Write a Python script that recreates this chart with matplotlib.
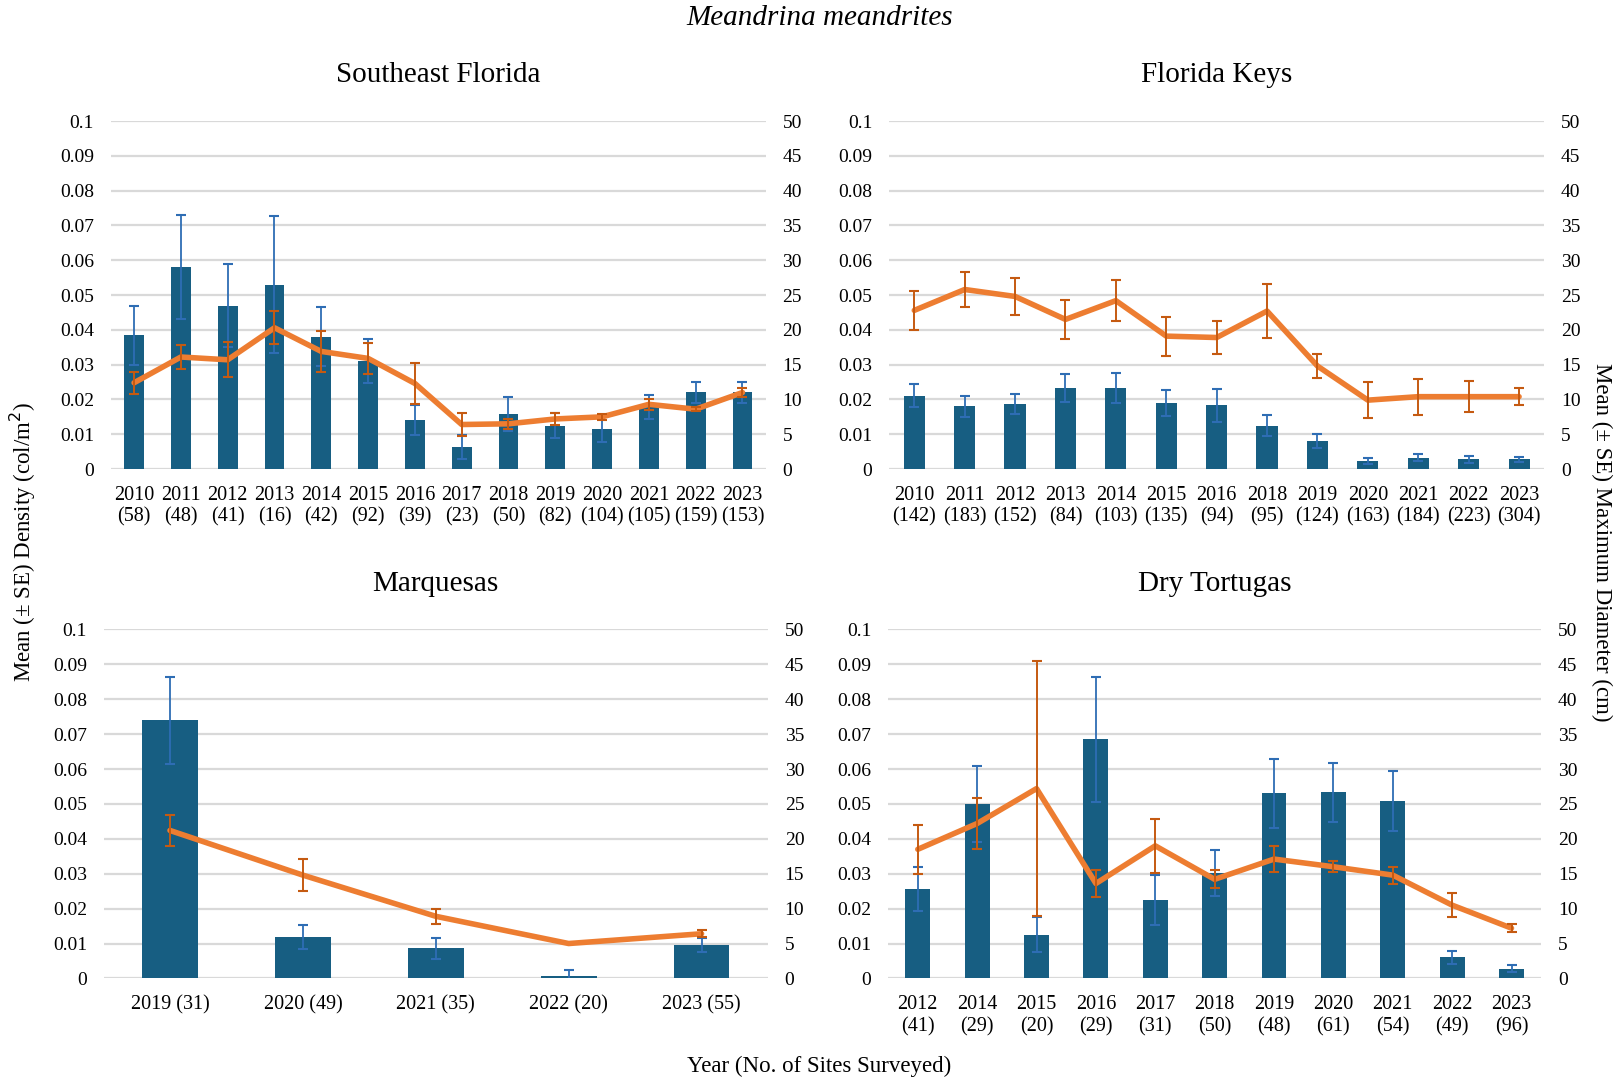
import numpy as np
import matplotlib
matplotlib.use("Agg")
import matplotlib.pyplot as plt

plt.rcParams['font.family'] = ['Liberation Serif', 'DejaVu Serif']

BAR = '#175E82'
BAR_ERR = '#2E6DB4'
LINE = '#ED7D31'
LINE_ERR = '#C55A11'
GRID = '#D9D9D9'

# Southeast Florida
sef_years = ['2010', '2011', '2012', '2013', '2014', '2015', '2016', '2017', '2018', '2019', '2020', '2021', '2022', '2023']
sef_sites = ['58', '48', '41', '16', '42', '92', '39', '23', '50', '82', '104', '105', '159', '153']
sef_dens = [0.0385, 0.058, 0.047, 0.053, 0.038, 0.031, 0.014, 0.0063, 0.0158, 0.0125, 0.0115, 0.0178, 0.022, 0.022]
sef_dens_se = [0.0085, 0.015, 0.012, 0.0197, 0.0085, 0.0063, 0.0043, 0.0035, 0.005, 0.0037, 0.0038, 0.0035, 0.003, 0.003]
sef_diam = [12.4, 16.1, 15.7, 20.3, 16.9, 15.9, 12.3, 6.4, 6.5, 7.2, 7.5, 9.3, 8.6, 11.0]
sef_diam_se = [1.6, 1.7, 2.5, 2.4, 2.9, 2.2, 3.0, 1.6, 0.7, 0.8, 0.4, 0.8, 0.3, 0.7]

# Florida Keys
fk_years = ['2010', '2011', '2012', '2013', '2014', '2015', '2016', '2018', '2019', '2020', '2021', '2022', '2023']
fk_sites = ['142', '183', '152', '84', '103', '135', '94', '95', '124', '163', '184', '223', '304']
fk_dens = [0.021, 0.018, 0.0187, 0.0233, 0.0233, 0.019, 0.0183, 0.0125, 0.008, 0.0023, 0.0033, 0.0028, 0.0028]
fk_dens_se = [0.0033, 0.003, 0.003, 0.004, 0.0043, 0.0037, 0.0047, 0.003, 0.002, 0.0009, 0.0009, 0.001, 0.0007]
fk_diam = [22.8, 25.8, 24.8, 21.5, 24.2, 19.1, 18.9, 22.7, 14.8, 9.9, 10.4, 10.4, 10.4]
fk_diam_se = [2.8, 2.5, 2.7, 2.8, 2.9, 2.8, 2.4, 3.9, 1.7, 2.6, 2.6, 2.2, 1.2]

# Marquesas
mq_years = ['2019', '2020', '2021', '2022', '2023']
mq_sites = ['31', '49', '35', '20', '55']
mq_dens = [0.074, 0.0118, 0.0086, 0.0007, 0.0095]
mq_dens_se = [0.0125, 0.0034, 0.003, 0.0016, 0.002]
mq_diam = [21.2, 14.8, 8.9, 5.0, 6.4]
mq_diam_se = [2.2, 2.3, 1.1, 0.0, 0.5]

# Dry Tortugas
dt_years = ['2012', '2014', '2015', '2016', '2017', '2018', '2019', '2020', '2021', '2022', '2023']
dt_sites = ['41', '29', '20', '29', '31', '50', '48', '61', '54', '49', '96']
dt_dens = [0.0255, 0.05, 0.0125, 0.0685, 0.0225, 0.0302, 0.053, 0.0533, 0.0508, 0.006, 0.0028]
dt_dens_se = [0.0063, 0.011, 0.005, 0.018, 0.0072, 0.0065, 0.01, 0.0085, 0.0085, 0.002, 0.001]
dt_diam = [18.5, 22.2, 27.2, 13.6, 19.0, 14.2, 17.1, 16.0, 14.8, 10.5, 7.2]
dt_diam_se = [3.5, 3.6, 18.3, 1.9, 3.9, 1.3, 1.9, 0.8, 1.2, 1.7, 0.6]

fig = plt.figure(figsize=(16.23, 10.84), dpi=100)


def panel(rect, title, years, sites, dens, dens_se, diam, diam_se, one_line=False):
    ax = fig.add_axes(rect)
    x = np.arange(len(years))
    ax.bar(x, dens, width=0.42, color=BAR, zorder=2)
    ax.errorbar(x, dens, yerr=dens_se, fmt='none', ecolor=BAR_ERR, elinewidth=1.3,
                capsize=3.5, capthick=1.5, zorder=3)
    ax.set_ylim(0, 0.1)
    ax.set_yticks(np.arange(0, 0.101, 0.01))
    ax.set_yticklabels(['0'] + ['%g' % v for v in np.arange(0.01, 0.101, 0.01).round(2)])
    ax.set_xlim(-0.5, len(years) - 0.5)
    ax.set_xticks(x)
    if one_line:
        labels = ['%s (%s)' % (y, s) for y, s in zip(years, sites)]
    else:
        labels = ['%s\n(%s)' % (y, s) for y, s in zip(years, sites)]
    ax.set_xticklabels(labels, fontsize=14.5, linespacing=1.2)
    ax.yaxis.grid(True, color=GRID, linewidth=1.6, zorder=0)
    ax.set_axisbelow(True)
    ax.tick_params(axis='y', length=0, labelsize=14, pad=12)
    ax.tick_params(axis='x', length=0, pad=12)
    for s in ax.spines.values():
        s.set_visible(False)
    ax.set_title(title, fontsize=21, pad=28)

    ax2 = ax.twinx()
    ax2.plot(x, diam, color=LINE, linewidth=4, zorder=4, solid_capstyle='round')
    err = np.array(diam_se)
    m = err > 0
    ax2.errorbar(x[m], np.array(diam)[m], yerr=err[m], fmt='none', ecolor=LINE_ERR,
                 elinewidth=1.4, capsize=3.5, capthick=1.5, zorder=5)
    ax2.set_ylim(0, 50)
    ax2.set_yticks(np.arange(0, 51, 5))
    ax2.tick_params(length=0, labelsize=14, pad=12)
    for s in ax2.spines.values():
        s.set_visible(False)
    return ax, ax2


panel([0.0682, 0.5673, 0.4037, 0.3210], 'Southeast Florida', sef_years, sef_sites,
      sef_dens, sef_dens_se, sef_diam, sef_diam_se)
panel([0.5478, 0.5673, 0.4037, 0.3210], 'Florida Keys', fk_years, fk_sites,
      fk_dens, fk_dens_se, fk_diam, fk_diam_se)
panel([0.0638, 0.0974, 0.4094, 0.3219], 'Marquesas', mq_years, mq_sites,
      mq_dens, mq_dens_se, mq_diam, mq_diam_se, one_line=True)
panel([0.5472, 0.0974, 0.4024, 0.3219], 'Dry Tortugas', dt_years, dt_sites,
      dt_dens, dt_dens_se, dt_diam, dt_diam_se)

fig.text(0.505, 0.983, 'Meandrina meandrites', ha='center', va='center',
         fontsize=21, style='italic')
fig.text(0.014, 0.50, 'Mean (± SE) Density (col/m$^2$)', rotation=90,
         ha='center', va='center', fontsize=16.5)
fig.text(0.987, 0.50, 'Mean (± SE) Maximum Diameter (cm)', rotation=270,
         ha='center', va='center', fontsize=16.5)
fig.text(0.505, 0.016, 'Year (No. of Sites Surveyed)', ha='center', va='center',
         fontsize=16.5)

fig.savefig('out.png', dpi=100)
